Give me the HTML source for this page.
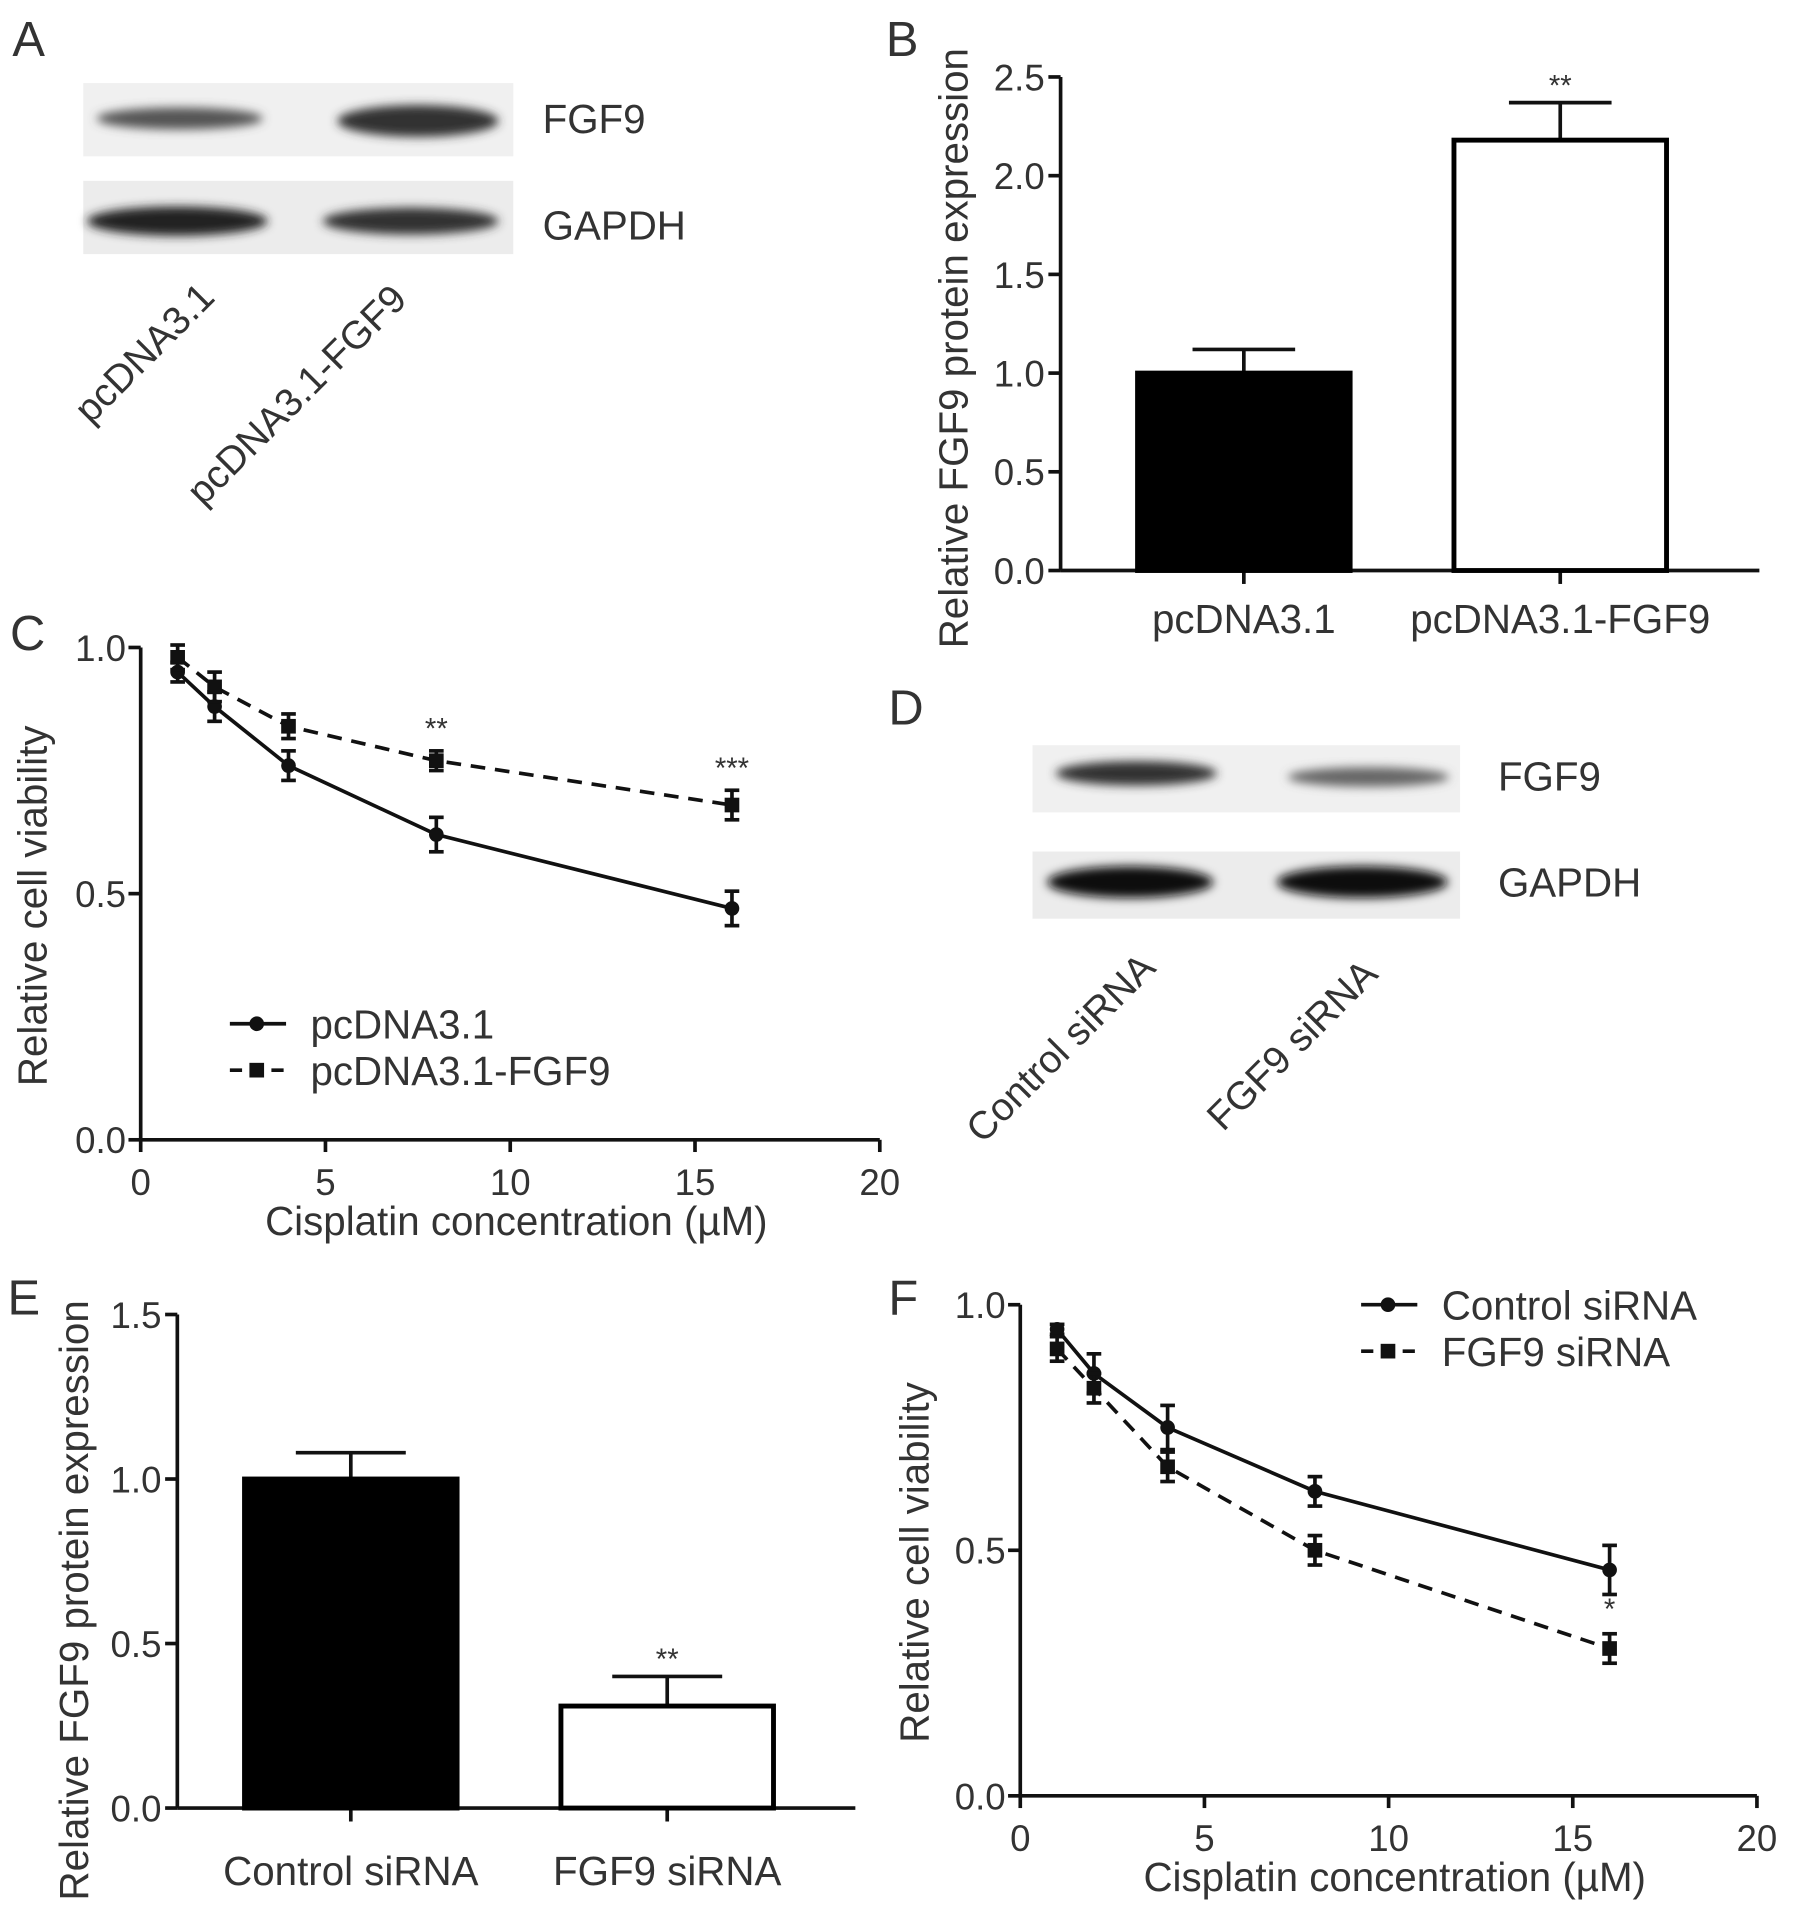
<!DOCTYPE html>
<html><head><meta charset="utf-8"><style>
html,body{margin:0;padding:0;background:#fff;}
svg{display:block;}
text{font-family:"Liberation Sans",Arial,sans-serif;fill:#333;}
</style></head><body>
<svg id="fig" xmlns="http://www.w3.org/2000/svg" width="1795" height="1918" viewBox="0 0 1469 1570">
<defs><filter id="blur" x="-20%" y="-50%" width="140%" height="200%"><feGaussianBlur stdDeviation="4"/></filter></defs>
<g id="static">
<text x="10" y="46" font-size="40">A</text>
<text x="725" y="46" font-size="40">B</text>
<text x="8" y="532" font-size="40">C</text>
<text x="727" y="593" font-size="40">D</text>
<text x="6" y="1076" font-size="40">E</text>
<text x="727" y="1076" font-size="40">F</text>
<g>
<rect x="68" y="68" width="352" height="60" fill="#f0f0f0"/>
<rect x="68" y="148" width="352" height="60" fill="#ececec"/>
<ellipse cx="147" cy="97" rx="68" ry="9" fill="#555" filter="url(#blur)"/>
<ellipse cx="342" cy="99" rx="66" ry="13" fill="#333" filter="url(#blur)"/>
<ellipse cx="145" cy="181" rx="74" ry="12" fill="#222" filter="url(#blur)"/>
<ellipse cx="336" cy="181" rx="72" ry="11" fill="#333" filter="url(#blur)"/>
</g>
<text x="444" y="109" font-size="33">FGF9</text>
<text x="444" y="196" font-size="33">GAPDH</text>
<text transform="translate(74,348) rotate(-45)" font-size="32">pcDNA3.1</text>
<text transform="translate(166,415) rotate(-45)" font-size="32">pcDNA3.1-FGF9</text>
<g>
<rect x="845" y="610" width="350" height="55" fill="#f0f0f0"/>
<rect x="845" y="697" width="350" height="55" fill="#ececec"/>
<ellipse cx="930" cy="633" rx="66" ry="10" fill="#333" filter="url(#blur)"/>
<ellipse cx="1120" cy="636" rx="66" ry="8" fill="#666" filter="url(#blur)"/>
<ellipse cx="925" cy="722" rx="68" ry="13" fill="#111" filter="url(#blur)"/>
<ellipse cx="1115" cy="722" rx="70" ry="13" fill="#111" filter="url(#blur)"/>
</g>
<text x="1226" y="647" font-size="33">FGF9</text>
<text x="1226" y="734" font-size="33">GAPDH</text>
<text transform="translate(804,937) rotate(-45)" font-size="32">Control siRNA</text>
<text transform="translate(1001,927) rotate(-45)" font-size="32">FGF9 siRNA</text>
</g>
<g id="charts"></g>
</svg>
<script>
const bCategories = ["pcDNA3.1", "pcDNA3.1-FGF9"];
const bValues = [1.0, 2.18];
const bErrors = [0.12, 0.19];
const bYTicks = ["0.0","0.5","1.0","1.5","2.0","2.5"];
const bStars = ["", "**"];
const eCategories = ["Control siRNA", "FGF9 siRNA"];
const eValues = [1.0, 0.31];
const eErrors = [0.08, 0.09];
const eYTicks = ["0.0","0.5","1.0","1.5"];
const eStars = ["", "**"];
const cX = [1, 2, 4, 8, 16];
const cSolid = [0.95, 0.88, 0.76, 0.62, 0.47];
const cSolidErr = [0.02, 0.03, 0.03, 0.035, 0.035];
const cDashed = [0.98, 0.92, 0.84, 0.77, 0.68];
const cDashedErr = [0.025, 0.03, 0.025, 0.02, 0.03];
const cStars = ["", "", "", "**", "***"];
const cNames = ["pcDNA3.1", "pcDNA3.1-FGF9"];
const fX = [1, 2, 4, 8, 16];
const fSolid = [0.95, 0.86, 0.75, 0.62, 0.46];
const fSolidErr = [0.01, 0.04, 0.045, 0.03, 0.05];
const fDashed = [0.91, 0.83, 0.67, 0.50, 0.30];
const fDashedErr = [0.025, 0.03, 0.03, 0.03, 0.03];
const fStars = ["", "", "", "", "*"];
const fNames = ["Control siRNA", "FGF9 siRNA"];
const xTicks = ["0","5","10","15","20"];
const viabTicks = ["0.0","0.5","1.0"];

const NS = "http://www.w3.org/2000/svg";
const root = document.getElementById("charts");
function mk(tag, attrs, parent, txt) {
  const e = document.createElementNS(NS, tag);
  for (const k in attrs) e.setAttribute(k, attrs[k]);
  if (txt !== undefined) e.textContent = txt;
  (parent || root).appendChild(e);
  return e;
}
function line(x1,y1,x2,y2,w,p,dash){const a={x1,y1,x2,y2,stroke:"#111","stroke-width":w};if(dash)a["stroke-dasharray"]=dash;return mk("line",a,p);}

function barChart(o) {
  const g = mk("g", {});  
  const y = v => o.y0 - (v / o.ymax) * (o.y0 - o.ytop);
  const ya = line(o.ax, o.ytop, o.ax, o.y0, 3, g);
   
  o.ticks.forEach(t => {
    const v = parseFloat(t), yy = y(v);
    line(o.ax - 10, yy, o.ax, yy, 3, g);
    const tl = mk("text", {x: o.ax - 13, y: yy + 11, "font-size": 30, "text-anchor": "end"}, g, t);
     
  });
  const xa = line(o.ax, o.y0, o.axEnd, o.y0, 3, g);
   
  o.cats.forEach((c, i) => {
    const cx = o.centers[i], top = y(o.vals[i]), et = y(o.vals[i] + o.errs[i]);
    line(cx, o.y0, cx, o.y0 + 11, 3, g);
    line(cx, top, cx, et, 3, g);
    line(cx - o.cap, et, cx + o.cap, et, 3, g);
    const r = mk("rect", {x: cx - o.bw / 2, y: top, width: o.bw, height: o.y0 - top, fill: i === 0 ? "#000" : "#fff", stroke: "#000", "stroke-width": 4}, g);
    
    
    const xl = mk("text", {x: cx, y: o.labelY, "font-size": 33, "text-anchor": "middle"}, g, c);
     
    if (o.stars[i]) {
      const s = mk("text", {x: cx, y: et - 6, "font-size": 24, "text-anchor": "middle"}, g, o.stars[i]);
       
    }
  });
  const tt = mk("text", {transform: `translate(${o.titleX},${o.titleY}) rotate(-90)`, "font-size": 33, "text-anchor": "middle"}, g, "Relative FGF9 protein expression");
   
}

function lineChart(o) {
  const g = mk("g", {});  
  const X = v => o.ax + (v / 20) * (o.axEnd - o.ax);
  const Y = v => o.y0 - v * (o.y0 - o.ytop);
  const ya = line(o.ax, o.ytop, o.ax, o.y0, 3, g);
   
  viabTicks.forEach(t => {
    const yy = Y(parseFloat(t));
    line(o.ax - 10, yy, o.ax, yy, 3, g);
    const tl = mk("text", {x: o.ax - 12, y: yy + 11, "font-size": 30, "text-anchor": "end"}, g, t);
     
  });
  const xa = line(o.ax, o.y0, o.axEnd, o.y0, 3, g);
   
  xTicks.forEach(t => {
    const xx = X(parseFloat(t));
    line(xx, o.y0, xx, o.y0 + 10, 3, g);
    const tl = mk("text", {x: xx, y: o.y0 + 45, "font-size": 30, "text-anchor": "middle"}, g, t);
     
  });
  function series(vals, errs, dashed, nm) {
    const sg = mk("g", {}, g);  
    const pts = o.xs.map((x, i) => X(x) + "," + Y(vals[i])).join(" ");
    const pl = mk("polyline", {points: pts, fill: "none", stroke: "#111", "stroke-width": 3}, sg);
    if (dashed) pl.setAttribute("stroke-dasharray", "12,8");
    o.xs.forEach((x, i) => {
      const cx = X(x), t = Y(vals[i] + errs[i]), b = Y(vals[i] - errs[i]);
      line(cx, t, cx, b, 3, sg); line(cx - 6, t, cx + 6, t, 3, sg); line(cx - 6, b, cx + 6, b, 3, sg);
      let m;
      if (dashed) m = mk("rect", {x: cx - 6, y: Y(vals[i]) - 6, width: 12, height: 12, fill: "#111"}, sg);
      else m = mk("circle", {cx: cx, cy: Y(vals[i]), r: 6, fill: "#111"}, sg);
       
    });
  }
  series(o.solid, o.solidErr, false, "series-solid");
  series(o.dashed, o.dashedErr, true, "series-dashed");
  o.stars.forEach((s, i) => {
    if (!s) return;
    const top = o.starBelow ? Y(o.dashed[i] + o.dashedErr[i]) - 12 : Y(Math.max(o.solid[i] + o.solidErr[i], o.dashed[i] + o.dashedErr[i])) - 10;
    const st = mk("text", {x: X(o.xs[i]), y: top, "font-size": 24, "text-anchor": "middle"}, g, s);
     
  });
  o.names.forEach((n, i) => {
    const ly = o.legY + i * 38;
    const lg = mk("g", {}, g);  
    const l = line(o.legX, ly, o.legX + 46, ly, 3, lg);
    if (i === 1) l.setAttribute("stroke-dasharray", "10,7");
    if (i === 0) mk("circle", {cx: o.legX + 22, cy: ly, r: 6, fill: "#111"}, lg);
    else mk("rect", {x: o.legX + 16, y: ly - 6, width: 12, height: 12, fill: "#111"}, lg);
    mk("text", {x: o.legX + 66, y: ly + 12, "font-size": 33}, lg, n);
  });
  const xt = mk("text", {x: (o.ax + o.axEnd) / 2 + 5, y: o.y0 + 78, "font-size": 33, "text-anchor": "middle"}, g, "Cisplatin concentration (\u00b5M)");
   
  const yt = mk("text", {transform: `translate(${o.titleX},${(o.ytop + o.y0) / 2 + 10}) rotate(-90)`, "font-size": 33, "text-anchor": "middle"}, g, "Relative cell viability");
   
}

barChart({name: "chart-b", ax: 868, axEnd: 1440, y0: 467, ytop: 63, ymax: 2.5, ticks: bYTicks, cats: bCategories, vals: bValues, errs: bErrors, stars: bStars, centers: [1018, 1277], bw: 174, cap: 42, labelY: 518, titleX: 792, titleY: 285});
barChart({name: "chart-e", ax: 145, axEnd: 700, y0: 1480, ytop: 1076, ymax: 1.5, ticks: eYTicks, cats: eCategories, vals: eValues, errs: eErrors, stars: eStars, centers: [287, 546], bw: 174, cap: 45, labelY: 1543, titleX: 72, titleY: 1310});
lineChart({name: "chart-c", ax: 115, axEnd: 720, y0: 933, ytop: 530, xs: cX, solid: cSolid, solidErr: cSolidErr, dashed: cDashed, dashedErr: cDashedErr, stars: cStars, names: cNames, legX: 188, legY: 838, titleX: 38});
lineChart({name: "chart-f", ax: 835, axEnd: 1438, y0: 1470, ytop: 1068, xs: fX, solid: fSolid, solidErr: fSolidErr, dashed: fDashed, dashedErr: fDashedErr, stars: fStars, starBelow: true, names: fNames, legX: 1114, legY: 1068, titleX: 760});
</script>
</body></html>
